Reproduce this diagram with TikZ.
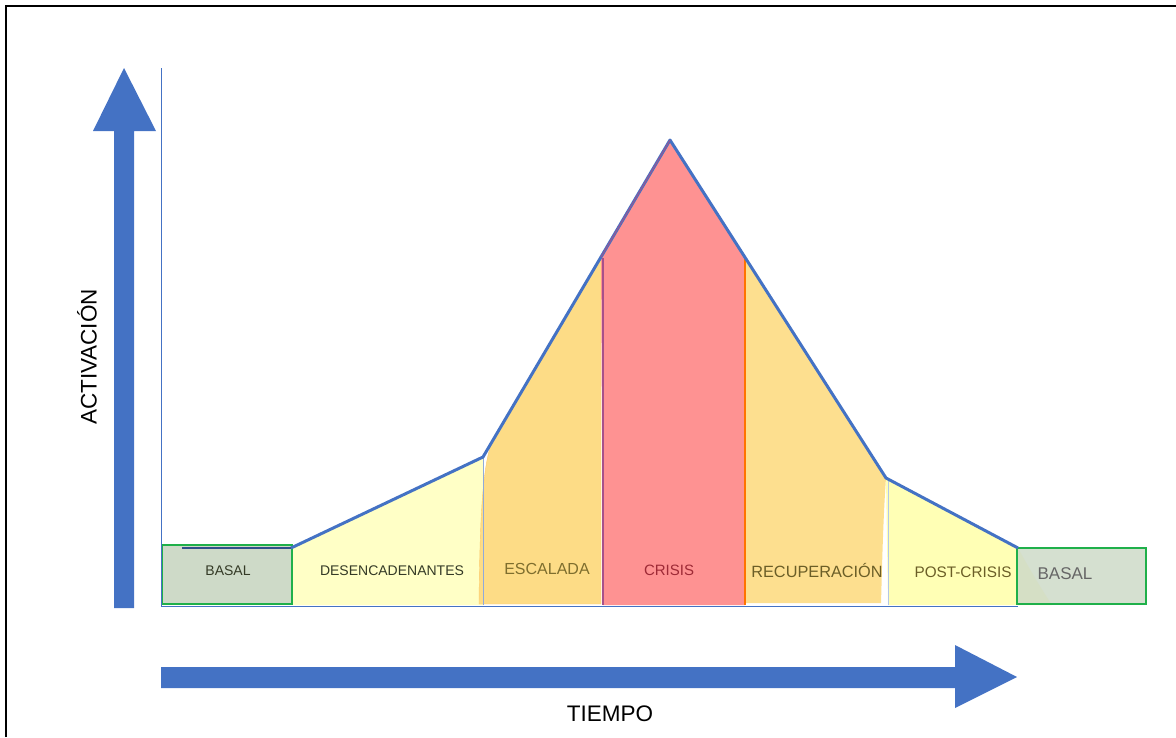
\documentclass[tikz,border=0pt]{standalone}
\usepackage{fontspec}
\setmainfont{Liberation Sans}

\definecolor{axisblue}{HTML}{4472C4}
\definecolor{basalfill}{HTML}{CEDAC8}
\definecolor{basalgreen}{HTML}{1FB04A}
\definecolor{trigyellow}{HTML}{FFFFC6}
\definecolor{escorange}{HTML}{FDDC86}
\definecolor{crisisred}{HTML}{FE9292}
\definecolor{recorange}{HTML}{FDDF8F}
\definecolor{postyellow}{HTML}{FFFFB5}
\definecolor{olivetext}{HTML}{7E6E2E}
\definecolor{darktext}{HTML}{343A26}
\definecolor{crisistext}{HTML}{9E2A36}
\definecolor{crisisedge}{HTML}{A8508A}

\tikzset{
  phase/.style={inner sep=0pt, font=\fontsize{14}{16}\selectfont},
  basalbox/.style={draw=basalgreen, line width=2.8pt, fill=basalfill},
  bigarrow/.style={fill=axisblue, draw=none},
}

\begin{document}
\begin{tikzpicture}[x=1pt,y=-1pt]
    \useasboundingbox (0,0) rectangle (1176,737);
    % Frame
    \draw[line width=1.3pt] (6,737) -- (6,6) -- (1176,6);

    % Curve points
    \coordinate (c0) at (291,548);
    \coordinate (c1) at (483,457);
    \coordinate (c2) at (601,257);
    \coordinate (top) at (670,140);
    \coordinate (c3) at (745,258);
    \coordinate (c4) at (886,478);
    \coordinate (c5) at (1018,548);

    % Phase areas
    \fill[trigyellow] (c0) -- (c1) -- (483,605) -- (292,605) -- cycle;
    \filldraw[fill=escorange, draw=escorange!80!orange] (479,604) .. controls (480,500) and (484,450) .. (497,432) -- (c2) -- (601,604) -- cycle;
    \fill[crisisred] (c2) -- (top) -- (c3) -- (745,605) -- (603,605) -- cycle;
    \fill[recorange] (c3) -- (c4) .. controls (883,520) and (882,570) .. (881,603) -- (745,603) -- cycle;
    \fill[postyellow] (c4) -- (c5) .. controls (1030,570) and (1042,590) .. (1052,605) -- (888,605) -- cycle;

    % Phase borders
    \draw[axisblue!60, line width=0.8pt] (c1) -- (483,605);
    \draw[crisisedge, line width=1.4pt] (603,258) -- (603,605);
    \draw[orange!90!red, line width=1.8pt] (745,258) -- (745,605);
    \draw[axisblue!40, line width=0.8pt] (888,480) -- (888,605);

    % Basal boxes
    \draw[basalbox] (162,545) rectangle (292,604);
    \draw[basalbox, fill opacity=0.85] (1017,548) rectangle (1146,604);
    \draw[axisblue!70!black, line width=2pt] (182,548) -- (c0);

    % Activation curve
    \draw[axisblue, line width=3pt, line join=round] (c0) -- (c1) -- (top) -- (c4) -- (c5);
    \draw[crisisedge, line width=1.4pt, opacity=0.7] (c2) -- (top);

    % Axes
    \draw[axisblue, line width=0.9pt] (161,68) -- (161,606) -- (1018,606);

    % Big arrows
    \fill[bigarrow] (114,608) -- (114,131) -- (93,131) -- (124,68) -- (156,131) -- (134,131) -- (134,608) -- cycle;
    \fill[bigarrow] (161,667) -- (955,667) -- (955,645) -- (1017,677) -- (955,708) -- (955,688) -- (161,688) -- cycle;

    % Labels
    \node[phase, darktext] (basalL) at (228,571) {BASAL};
    \node[phase, darktext] (trig) at (392,571) {DESENCADENANTES};
    \node[phase, olivetext, font=\fontsize{16}{18}\selectfont] (esc) at (547,569) {ESCALADA};
    \node[phase, crisistext, font=\fontsize{15}{17}\selectfont] (crisis) at (669,570) {CRISIS};
    \node[phase, olivetext!85!black, font=\fontsize{16.3}{18}\selectfont] (rec) at (817,571) {RECUPERACIÓN};
    \node[phase, olivetext!85!black, font=\fontsize{15.3}{17}\selectfont] (post) at (963,572) {POST-CRISIS};
    \node[phase, black!60, font=\fontsize{17}{19}\selectfont] (basalR) at (1065,574) {BASAL};
    \node[inner sep=0pt, font=\fontsize{22.5}{24}\selectfont] (time) at (610,714) {TIEMPO};
    \node[inner sep=0pt, rotate=90, font=\fontsize{22.5}{24}\selectfont] (act) at (87,357) {ACTIVACIÓN};
\end{tikzpicture}
\end{document}
